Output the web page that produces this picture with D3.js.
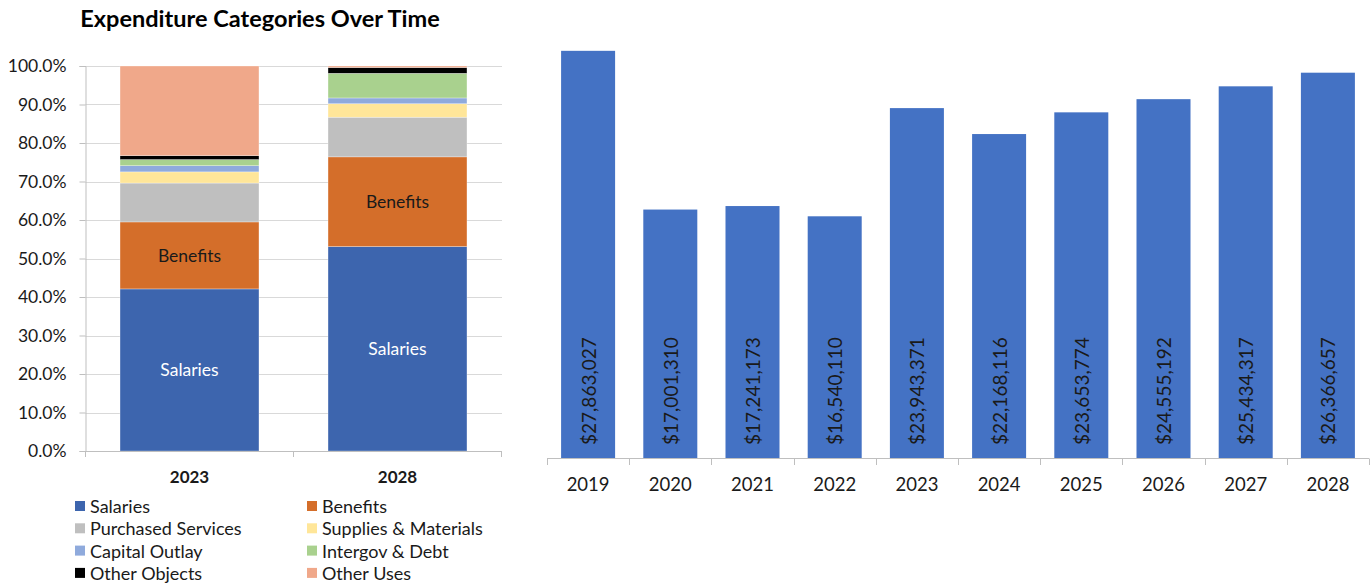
<!DOCTYPE html>
<html>
<head>
<meta charset="utf-8">
<script src="https://cdn.jsdelivr.net/npm/d3@7"></script>
<style>
  body { margin: 0; background: #fff; }
  text { font-family: Lato, "Open Sans", sans-serif; }
</style>
</head>
<body>
<svg id="chart" width="1372" height="586"></svg>
<script>
// left chart: share of spending by category
const stackYears = ["2023", "2028"];
const categories = ["Salaries", "Benefits", "Purchased Services", "Supplies & Materials",
                    "Capital Outlay", "Intergov & Debt", "Other Objects", "Other Uses"];
const share2023 = [0.421, 0.174, 0.101, 0.029, 0.016, 0.016, 0.010, 0.233];
const share2028 = [0.531, 0.233, 0.103, 0.035, 0.015, 0.064, 0.015, 0.004];
const catColors = ["#3d65ae", "#d46e2a", "#bfbfbf", "#ffe699", "#8faadc", "#a9d18e", "#000000", "#f0a88a"];
const pctTicks = [0, 0.1, 0.2, 0.3, 0.4, 0.5, 0.6, 0.7, 0.8, 0.9, 1.0];

// right chart: total spending per year
const years = ["2019", "2020", "2021", "2022", "2023", "2024", "2025", "2026", "2027", "2028"];
const totals = [27863027, 17001310, 17241173, 16540110, 23943371, 22168116, 23653774, 24555192, 25434317, 26366657];

const svg = d3.select("#chart");

// ---------- left chart ----------
let rows = stackYears.map((yr, i) => {
  let row = {year: yr};
  let vals = i == 0 ? share2023 : share2028;
  categories.forEach((c, j) => { row[c] = vals[j]; });
  return row;
});

let series = d3.stack().keys(categories)(rows);

let x1 = d3.scaleBand()
           .domain(stackYears)
           .range([85.5, 501.5])
           .paddingInner(0.332)
           .paddingOuter(0.166);

let y1 = d3.scaleLinear()
           .domain([0, 1])
           .range([451, 66]);

svg.append("text")
   .attr("x", 260)
   .attr("y", 27)
   .attr("text-anchor", "middle")
   .style("font-size", "23.5px")
   .style("font-weight", "bold")
   .style("fill", "#000")
   .text("Expenditure Categories Over Time");

// gridlines
svg.append("g")
   .selectAll("line")
   .data(pctTicks)
   .enter()
   .append("line")
   .attr("x1", 85.5)
   .attr("x2", 502)
   .attr("y1", d => Math.round(y1(d)) + 0.5)
   .attr("y2", d => Math.round(y1(d)) + 0.5)
   .attr("stroke", "#d9d9d9")
   .attr("stroke-width", 1);

// y axis
let yAxis = svg.append("g")
   .attr("transform", "translate(85.5,0)")
   .call(d3.axisLeft(y1).tickValues(pctTicks).tickFormat(d3.format(".1%")).tickSize(6).tickPadding(13));
yAxis.select(".domain").attr("stroke", "#bfbfbf");
yAxis.selectAll(".tick line").attr("stroke", "#bfbfbf");
yAxis.selectAll(".tick text")
     .style("font-size", "17.5px")
     .style("fill", "#1a1a1a")
     .style("font-family", "Lato, sans-serif");

// bars
let segs = svg.append("g")
   .selectAll("g")
   .data(series)
   .enter()
   .append("g")
   .attr("fill", (d, i) => catColors[i]);

segs.selectAll("rect")
    .data(d => d)
    .enter()
    .append("rect")
    .attr("x", d => x1(d.data.year))
    .attr("width", x1.bandwidth())
    .attr("y", d => y1(d[1]))
    .attr("height", d => y1(d[0]) - y1(d[1]))
    .attr("stroke", "#ffffff")
    .attr("stroke-opacity", 0.5)
    .attr("stroke-width", 0.6);

// labels inside Salaries & Benefits
[0, 1].forEach(k => {
  svg.append("g")
     .selectAll("text")
     .data(series[k])
     .enter()
     .append("text")
     .attr("x", d => x1(d.data.year) + x1.bandwidth() / 2)
     .attr("y", d => (y1(d[0]) + y1(d[1])) / 2)
     .attr("text-anchor", "middle")
     .attr("dominant-baseline", "central")
     .style("font-size", "17.5px")
     .style("fill", k == 0 ? "#ffffff" : "#1a1a1a")
     .text(categories[k]);
});

// x axis
svg.append("line")
   .attr("x1", 85.5).attr("x2", 502)
   .attr("y1", 451.5).attr("y2", 451.5)
   .attr("stroke", "#bfbfbf");

let bounds1 = [85.5, 293.5, 501.5];
svg.append("g")
   .selectAll("line")
   .data(bounds1)
   .enter()
   .append("line")
   .attr("x1", d => d).attr("x2", d => d)
   .attr("y1", 451.5).attr("y2", 457)
   .attr("stroke", "#bfbfbf");

svg.append("g")
   .selectAll("text")
   .data(stackYears)
   .enter()
   .append("text")
   .attr("x", d => x1(d) + x1.bandwidth() / 2)
   .attr("y", 483)
   .attr("text-anchor", "middle")
   .style("font-size", "17px")
   .style("font-weight", "bold")
   .style("fill", "#1a1a1a")
   .text(d => d);

// legend
let legend = svg.append("g")
   .selectAll("g")
   .data(categories)
   .enter()
   .append("g")
   .attr("transform", (d, i) => {
     let col = i % 2;
     let row = Math.floor(i / 2);
     return "translate(" + (col == 0 ? 75 : 307) + "," + (506 + row * 22.3) + ")";
   });

legend.append("rect")
      .attr("x", 0).attr("y", -5)
      .attr("width", 10).attr("height", 10)
      .attr("fill", (d, i) => catColors[i]);

legend.append("text")
      .attr("x", 15)
      .attr("y", 0)
      .attr("dominant-baseline", "central")
      .style("font-size", "18px")
      .style("fill", "#1a1a1a")
      .text(d => d);

// ---------- right chart ----------
let x2 = d3.scaleBand()
           .domain(years)
           .range([547, 1369])
           .paddingInner(0.343)
           .paddingOuter(0.1715);

let y2 = d3.scaleLinear()
           .domain([0, 30000000])
           .range([458, 19.6]);

svg.append("g")
   .selectAll("rect")
   .data(totals)
   .enter()
   .append("rect")
   .attr("x", (d, i) => x2(years[i]))
   .attr("width", x2.bandwidth())
   .attr("y", d => y2(d))
   .attr("height", d => y2(0) - y2(d))
   .attr("fill", "#4472c4");

let money = d3.format("$,.0f");
svg.append("g")
   .selectAll("text")
   .data(totals)
   .enter()
   .append("text")
   .attr("transform", (d, i) => "translate(" + (x2(years[i]) + x2.bandwidth() / 2) + ",445) rotate(-90)")
   .attr("text-anchor", "start")
   .attr("dominant-baseline", "central")
   .style("font-size", "19px")
   .style("fill", "#1a1a1a")
   .text(d => money(d));

svg.append("line")
   .attr("x1", 547).attr("x2", 1369)
   .attr("y1", 458.5).attr("y2", 458.5)
   .attr("stroke", "#bfbfbf");

let step2 = x2.step();
svg.append("g")
   .selectAll("line")
   .data(d3.range(years.length + 1))
   .enter()
   .append("line")
   .attr("x1", i => Math.round(547 + i * step2) + 0.5)
   .attr("x2", i => Math.round(547 + i * step2) + 0.5)
   .attr("y1", 458.5).attr("y2", 465)
   .attr("stroke", "#bfbfbf");

svg.append("g")
   .selectAll("text")
   .data(years)
   .enter()
   .append("text")
   .attr("x", d => x2(d) + x2.bandwidth() / 2)
   .attr("y", 491)
   .attr("text-anchor", "middle")
   .style("font-size", "18.5px")
   .style("fill", "#1a1a1a")
   .text(d => d);
</script>
</body>
</html>
